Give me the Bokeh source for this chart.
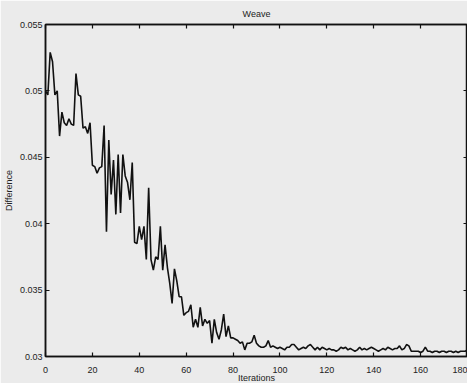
from bokeh.plotting import figure
from bokeh.models import LinearAxis, FixedTicker, Range1d
from bokeh.embed import file_html
from bokeh.resources import INLINE

title_text = "Weave"
x_label = "Iterations"
y_label = "Difference"

iterations = list(range(0, 181))
difference = [
    0.0500, 0.0497, 0.0529, 0.0522, 0.0497, 0.0500, 0.0466, 0.0484, 0.0476, 0.0474,
    0.0479, 0.0475, 0.0474, 0.0513, 0.0497, 0.0496, 0.0472, 0.0473, 0.0468, 0.0476,
    0.0444, 0.0443, 0.0438, 0.0442, 0.0443, 0.0474, 0.0394, 0.0463, 0.0422, 0.0448,
    0.0407, 0.0452, 0.0408, 0.0452, 0.0436, 0.0431, 0.0418, 0.0446, 0.0386, 0.0385,
    0.0398, 0.0388, 0.0398, 0.0373, 0.0427, 0.0373, 0.0365, 0.0375, 0.0373, 0.0398,
    0.0365, 0.0384, 0.0367, 0.0355, 0.0340, 0.0366, 0.0357, 0.0345, 0.0345, 0.0331,
    0.0333, 0.0334, 0.0339, 0.0322, 0.0328, 0.0322, 0.0337, 0.0323, 0.0328, 0.0325,
    0.0327, 0.0310, 0.0328, 0.0318, 0.0313, 0.0320, 0.0332, 0.0315, 0.0323, 0.0314,
    0.0314, 0.0313, 0.0312, 0.0310, 0.0311, 0.0305, 0.0310, 0.0310, 0.0311, 0.0316,
    0.0310, 0.0308, 0.0307, 0.0307, 0.0308, 0.0312, 0.0307, 0.0308, 0.0307, 0.0306,
    0.0307, 0.0306, 0.0305, 0.0307, 0.0307, 0.0309, 0.0309, 0.0307, 0.0305, 0.0306,
    0.0307, 0.0306, 0.0308, 0.0309, 0.0307, 0.0305, 0.0307, 0.0305, 0.0307, 0.0306,
    0.0305, 0.0306, 0.0305, 0.0305, 0.0304, 0.0305, 0.0307, 0.0306, 0.0307, 0.0305,
    0.0306, 0.0305, 0.0304, 0.0305, 0.0307, 0.0305, 0.0306, 0.0305, 0.0306, 0.0307,
    0.0306, 0.0305, 0.0304, 0.0305, 0.0306, 0.0305, 0.0307, 0.0306, 0.0305, 0.0306,
    0.0306, 0.0308, 0.0305, 0.0306, 0.0309, 0.0308, 0.0304, 0.0304, 0.0304, 0.0304,
    0.0303, 0.0304, 0.0307, 0.0304, 0.0304, 0.0303, 0.0304, 0.0304, 0.0303, 0.0304,
    0.0304, 0.0303, 0.0304, 0.0304, 0.0303, 0.0304, 0.0303, 0.0304, 0.0304, 0.0304,
    0.0305,
]

x_ticks = [0, 20, 40, 60, 80, 100, 120, 140, 160, 180]
y_ticks = [0.03, 0.035, 0.04, 0.045, 0.05, 0.055]
y_tick_labels = ["0.03", "0.035", "0.04", "0.045", "0.05", "0.055"]

BG = "#ebebeb"
FONT = "Liberation Sans"

p = figure(frame_width=422, frame_height=332, output_backend="svg", toolbar_location=None,
           x_range=Range1d(0, 180), y_range=Range1d(0.03, 0.055),
           min_border_left=40, min_border_right=0, min_border_top=16, min_border_bottom=24)
p.title.text = title_text
p.title.align = "center"
p.title.text_font = FONT
p.title.text_font_size = "9px"
p.title.text_font_style = "normal"
p.title.text_color = "#222222"
p.title.offset = 0
p.title.standoff = 12

p.background_fill_color = BG
p.border_fill_color = BG
p.outline_line_color = "#111111"
p.outline_line_width = 1.5
p.xgrid.visible = False
p.ygrid.visible = False

def style_axis(ax, show_labels=True):
    ax.axis_line_color = "#111111"
    ax.axis_line_width = 1.5
    ax.major_tick_in = 4
    ax.major_tick_out = 0
    ax.major_tick_line_color = "#111111"
    ax.major_tick_line_width = 1.2
    ax.minor_tick_line_color = None
    ax.major_label_text_font = FONT
    ax.major_label_text_font_size = "9px"
    ax.major_label_text_color = "#222222"
    ax.major_label_standoff = 3
    ax.axis_label_text_font = FONT
    ax.axis_label_text_font_size = "9px"
    ax.axis_label_text_font_style = "normal"
    ax.axis_label_text_color = "#222222"
    ax.axis_label_standoff = 3
    if not show_labels:
        ax.major_label_overrides = {}
        ax.major_label_text_font_size = "0px"
        ax.major_label_text_color = None
        ax.major_label_standoff = 0

xa = p.xaxis[0]
xa.ticker = FixedTicker(ticks=x_ticks)
xa.axis_label = x_label
style_axis(xa)
xa.major_label_standoff = 10
xa.axis_label_standoff = -3

ya = p.yaxis[0]
ya.ticker = FixedTicker(ticks=y_ticks)
ya.major_label_overrides = {t: l for t, l in zip(y_ticks, y_tick_labels)}
ya.axis_label = y_label
style_axis(ya)

top = LinearAxis(ticker=FixedTicker(ticks=x_ticks))
style_axis(top, show_labels=False)
p.add_layout(top, "above")
right = LinearAxis(ticker=FixedTicker(ticks=y_ticks))
style_axis(right, show_labels=False)
p.add_layout(right, "right")

p.line(iterations, difference, line_color="#111111", line_width=1.6)

open("out.html", "w").write(file_html(p, INLINE))
